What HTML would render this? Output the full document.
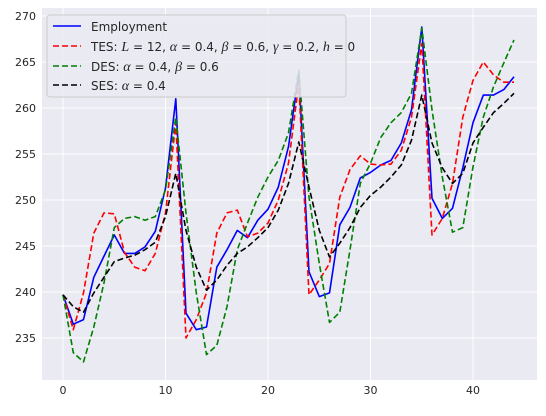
<!DOCTYPE html>
<html><head><meta charset="utf-8"><style>
body{margin:0;background:#fff;}
svg text{font-family:"DejaVu Sans","Liberation Sans",sans-serif;}
.m{font-family:"Liberation Serif",serif;font-style:italic;font-size:14px;}
</style></head><body>
<svg id="chart" width="546" height="411" xmlns="http://www.w3.org/2000/svg">
<rect x="42" y="8" width="495" height="372" fill="#eaeaf2"/>
<g id="grid"></g><g id="series"></g><g id="ticks"></g>
<g>
<rect x="47" y="15" width="299" height="82" rx="3" fill="#eaeaf2" fill-opacity="0.85" stroke="#ccc"/>
<line x1="53" y1="26" x2="81" y2="26" stroke="#0000ff" stroke-width="1.6"/>
<text x="91" y="31" font-size="12" fill="#262626">Employment</text>
<line x1="53" y1="46" x2="81" y2="46" stroke="#ff0000" stroke-width="1.6" stroke-dasharray="6,3"/>
<text x="91" y="51" font-size="12" fill="#262626">TES: <tspan class="m">L</tspan> = 12, <tspan class="m">α</tspan> = 0.4, <tspan class="m">β</tspan> = 0.6, <tspan class="m">γ</tspan> = 0.2, <tspan class="m">h</tspan> = 0</text>
<line x1="53" y1="66" x2="81" y2="66" stroke="#008000" stroke-width="1.6" stroke-dasharray="6,3"/>
<text x="91" y="71" font-size="12" fill="#262626">DES: <tspan class="m">α</tspan> = 0.4, <tspan class="m">β</tspan> = 0.6</text>
<line x1="53" y1="85" x2="81" y2="85" stroke="#000" stroke-width="1.6" stroke-dasharray="6,3"/>
<text x="91" y="90" font-size="12" fill="#262626">SES: <tspan class="m">α</tspan> = 0.4</text>
</g>
</svg>
<script>
const employment=[239.7,236.5,237,241.6,243.9,246.2,244.2,244.2,244.9,246.6,251.3,261,237.7,235.9,236.2,242.7,244.6,246.7,245.9,247.8,249,251.4,255.8,263.8,242.2,239.5,239.9,247.3,249.2,252.4,253,253.8,254.3,256.2,259.8,268.8,250.2,248,249.1,253.5,258.4,261.4,261.4,262,263.4];
const tes=[239.7,235.9,239.9,246.4,248.6,248.5,244.3,242.7,242.3,244.2,248.6,258.4,235,237,239.9,246.4,248.6,248.9,246,246.4,247.5,250,254,262.7,239.7,241.3,243.1,250.3,253.3,254.8,253.9,253.8,253.9,255.4,259,267,246.2,248,251.8,259,263,265,263.6,262.8,262.8];
const des=[239.7,233.4,232.4,236.2,241,247,248,248.2,247.8,248.2,251.1,259,248.6,239.9,233.2,234.2,238.4,244.6,247.5,250.3,252.5,254.3,257.3,264.1,250.3,243.1,236.7,237.8,244.6,251.8,254,256.8,258.4,259.5,261.6,268.7,259.8,252.5,246.5,247,253.6,259,262.3,264.9,267.4];
const ses=[239.7,238.4,237.8,239.9,241.6,243.3,243.7,244,244.6,245.4,248.2,252.9,246.7,242.7,240.2,241.3,242.9,244.2,244.9,245.9,247,248.9,251.8,256.3,251.4,246.7,243.8,245.3,247,249.2,250.5,251.4,252.5,253.8,256.5,261.4,256.2,253.5,251.8,252.9,256.2,257.9,259.5,260.5,261.6];
const xTicks=[0,10,20,30,40];
const yTicks=[235,240,245,250,255,260,265,270];
const NS="http://www.w3.org/2000/svg";
const X=v=>63+v*10.25, Y=v=>338-(v-235)*9.2;
const grid=document.getElementById('grid'),ticks=document.getElementById('ticks'),ser=document.getElementById('series');
function mk(tag,attrs,parent){const e=document.createElementNS(NS,tag);for(const k in attrs)e.setAttribute(k,attrs[k]);parent.appendChild(e);return e;}
xTicks.forEach(t=>{
 const l=mk('line',{x1:X(t),x2:X(t),y1:8,y2:380,stroke:'#fff','stroke-width':1},grid);
 
 
 const tx=mk('text',{x:X(t),y:394,'text-anchor':'middle','font-size':11,fill:'#262626'},ticks);
 tx.textContent=t;
 
 
});
yTicks.forEach(t=>{
 if(Y(t)<8)return;
 const l=mk('line',{x1:42,x2:537,y1:Y(t),y2:Y(t),stroke:'#fff','stroke-width':1},grid);
 
 
 const tx=mk('text',{x:36,y:Y(t)+4,'text-anchor':'end','font-size':11,fill:'#262626'},ticks);
 tx.textContent=t;
 
 
});
[[employment,'#0000ff',null,'employment-line'],[tes,'#ff0000','6,3','tes-line'],[des,'#008000','6,3','des-line'],[ses,'#000000','6,3','ses-line']].forEach(s=>{
 const pts=s[0].map((v,i)=>X(i).toFixed(1)+','+Y(v).toFixed(1)).join(' ');
 const a={points:pts,fill:'none',stroke:s[1],'stroke-width':1.6,'stroke-linejoin':'round'};
 if(s[2])a['stroke-dasharray']=s[2];
 const p=mk('polyline',a,ser);
 
 
});
</script>
</body></html>
